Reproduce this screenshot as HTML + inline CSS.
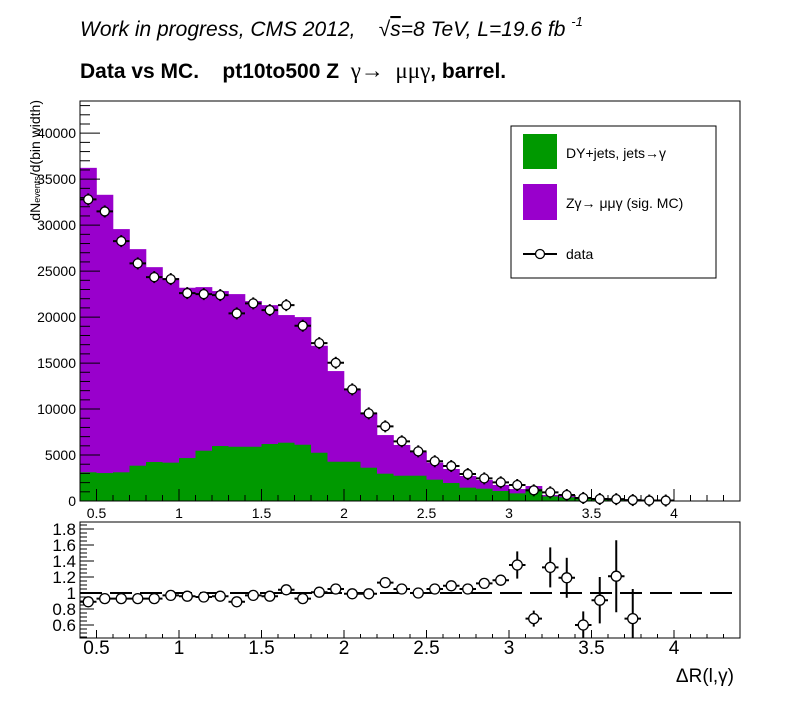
<!DOCTYPE html>
<html><head><meta charset="utf-8"><style>
html,body{margin:0;padding:0;background:#fff}
svg{display:block;font-family:"Liberation Sans",sans-serif}
</style></head><body>
<svg id="c" width="796" height="724" viewBox="0 0 796 724">
<text x="80" y="36" font-size="21" font-style="italic" xml:space="preserve" style="white-space:pre">Work in progress, CMS 2012,    &#x221A;<tspan text-decoration="overline">s</tspan>=8 TeV, L=19.6 fb <tspan font-size="13" dy="-10">-1</tspan></text>
<text x="80" y="78" font-size="21" font-weight="bold" xml:space="preserve" style="white-space:pre">Data vs MC.    pt10to500 Z  <tspan font-weight="normal" font-family="Liberation Serif" font-size="23">γ→  μμγ</tspan>, barrel.</text>
<g id="main"></g>
<g id="ratio"></g>
<text x="734" y="682" font-size="19" text-anchor="end">ΔR(l,γ)</text>
<text transform="translate(40,100) rotate(-90)" font-size="14" text-anchor="end">dN<tspan font-size="9">events</tspan>/d(bin width)</text>
<g>
<rect x="511" y="126" width="205" height="152" fill="#fff" stroke="#000" stroke-width="1"/>
<rect x="523" y="134" width="34" height="35" fill="#009900"/>
<text x="566" y="158" font-size="14">DY+jets, jets→γ</text>
<rect x="523" y="184" width="34" height="36" fill="#9900cc"/>
<text x="566" y="208" font-size="14">Zγ→ μμγ (sig. MC)</text>
<line x1="523" y1="254" x2="557" y2="254" stroke="#000" stroke-width="2"/>
<circle cx="540" cy="254" r="4.5" fill="#fff" stroke="#000" stroke-width="1.3"/>
<text x="566" y="259" font-size="14">data</text>
</g>
</svg>
<script>
const binLo = [0.4,0.5,0.6,0.7,0.8,0.9,1.0,1.1,1.2,1.3,1.4,1.5,1.6,1.7,1.8,1.9,2.0,2.1,2.2,2.3,2.4,2.5,2.6,2.7,2.8,2.9,3.0,3.1,3.2,3.3,3.4,3.5,3.6,3.7,3.8,3.9];
const stackTotal = [36230,33300,29570,27390,25430,24240,23190,23260,22830,22500,21740,21300,20220,20000,16880,14130,12170,9600,7170,6090,5360,4170,3480,2720,2280,1740,1300,1630,650,540,400,250,150,100,50,30];
const dyValues = [3120,3040,3120,3840,4240,4170,4670,5470,5980,5900,5900,6200,6340,6120,5250,4270,4270,3620,2970,2750,2750,2320,1960,1450,1340,1090,830,1300,500,400,250,200,100,60,30,20];
const dataValues = [32800,31490,28260,25840,24350,24130,22610,22500,22390,20400,21490,20760,21300,19060,17170,15030,12140,9530,8120,6490,5400,4320,3800,2930,2460,2030,1740,1160,940,650,330,220,200,100,50,50];
const ratioValues = [0.89,0.93,0.93,0.93,0.93,0.97,0.96,0.95,0.96,0.89,0.97,0.96,1.04,0.93,1.01,1.05,0.99,0.99,1.13,1.05,1.0,1.05,1.09,1.05,1.12,1.16,1.35,0.68,1.32,1.19,0.6,0.91,1.21,0.68];
const ratioErrors = [0.01,0.01,0.01,0.01,0.01,0.01,0.01,0.01,0.01,0.01,0.01,0.01,0.01,0.01,0.01,0.015,0.015,0.02,0.02,0.02,0.02,0.03,0.03,0.04,0.05,0.07,0.17,0.1,0.25,0.25,0.17,0.29,0.45,0.37];
const yTicks = [0,5000,10000,15000,20000,25000,30000,35000,40000];
const xTicks = [0.5,1,1.5,2,2.5,3,3.5,4];
const rTicks = [0.6,0.8,1,1.2,1.4,1.6,1.8];
const rTickLabels = ["0.6","0.8","1","1.2","1.4","1.6","1.8"];

const NS="http://www.w3.org/2000/svg";
const X0=80,X1=740,xmin=0.4,xmax=4.4;
const sx=v=>X0+(v-xmin)/(xmax-xmin)*(X1-X0);
const MT=101,MB=501,ymax=43500;
const sy=v=>MB-v/ymax*(MB-MT);
const RT=522,RB=638,rmin=0.4375,rmax=1.8875;
const sr=v=>RB-(v-rmin)/(rmax-rmin)*(RB-RT);
function mk(p,t,a){const e=document.createElementNS(NS,t);for(const k in a)e.setAttribute(k,a[k]);p.appendChild(e);return e;}
const main=document.getElementById('main'), ratio=document.getElementById('ratio');
const bw=0.1;
binLo.forEach((lo,i)=>{
  const r=mk(main,'rect',{x:sx(lo),y:sy(stackTotal[i]),width:sx(lo+bw)-sx(lo)+0.3,height:MB-sy(stackTotal[i]),fill:'#9900cc'});
  
  
  const g=mk(main,'rect',{x:sx(lo),y:sy(dyValues[i]),width:sx(lo+bw)-sx(lo)+0.3,height:MB-sy(dyValues[i]),fill:'#009900'});
  
  
});
const f=mk(main,'rect',{x:X0,y:MT,width:X1-X0,height:MB-MT,fill:'none',stroke:'#000','stroke-width':1});


for(let v=0;v<=ymax;v+=1000){const y=sy(v);const major=v%5000===0;mk(main,'line',{x1:X0,y1:y,x2:X0+(major?20:10),y2:y,stroke:'#000'});}
yTicks.forEach(v=>{const t=mk(main,'text',{x:76,y:sy(v)+5,'font-size':14,'text-anchor':'end'});t.textContent=v;
  
  });
for(let k=0;k<=40;k++){const v=0.4+k*0.1;const x=sx(v);const major=Math.abs(v*2-Math.round(v*2))<1e-6;
  mk(main,'line',{x1:x,y1:MB,x2:x,y2:MB-(major?12:6),stroke:'#000'});
  mk(ratio,'line',{x1:x,y1:RB,x2:x,y2:RB-(major?8:4),stroke:'#000'});}
xTicks.forEach(v=>{const t=mk(main,'text',{x:sx(v),y:518,'font-size':14,'text-anchor':'middle'});t.textContent=v;
  
  
  const t2=mk(ratio,'text',{x:sx(v),y:654,'font-size':19,'text-anchor':'middle'});t2.textContent=v;
  
  });
binLo.forEach((lo,i)=>{const cx=sx(lo+bw/2),cy=sy(dataValues[i]);
  mk(main,'line',{x1:sx(lo),y1:cy,x2:sx(lo+bw),y2:cy,stroke:'#000','stroke-width':2});
  mk(main,'line',{x1:cx,y1:cy-6,x2:cx,y2:cy+6,stroke:'#000','stroke-width':2});
  const c=mk(main,'circle',{cx:cx,cy:cy,r:4.5,fill:'#fff',stroke:'#000','stroke-width':1.3});
  
  });
const rf=mk(ratio,'rect',{x:X0,y:RT,width:X1-X0,height:RB-RT,fill:'none',stroke:'#000'});


for(let k=9;k<=37;k++){const v=k*0.05;const y=sr(v);const major=(k%4===0);mk(ratio,'line',{x1:X0,y1:y,x2:X0+(major?14:7),y2:y,stroke:'#000'});}
rTicks.forEach((v,i)=>{const t=mk(ratio,'text',{x:76,y:sr(v)+6,'font-size':17,'text-anchor':'end'});t.textContent=rTickLabels[i];
  
  });
const ref=mk(ratio,'line',{x1:X0,y1:sr(1),x2:X1,y2:sr(1),stroke:'#000','stroke-width':2,'stroke-dasharray':'22,8'});


ratioValues.forEach((v,i)=>{const lo=binLo[i];const cx=sx(lo+bw/2),cy=sr(v);
  const e=ratioErrors[i];
  mk(ratio,'line',{x1:sx(lo),y1:cy,x2:sx(lo+bw),y2:cy,stroke:'#000','stroke-width':2});
  mk(ratio,'line',{x1:cx,y1:Math.max(RT,sr(v+e)),x2:cx,y2:Math.min(RB,sr(v-e)),stroke:'#000','stroke-width':2});
  const c=mk(ratio,'circle',{cx:cx,cy:cy,r:5,fill:'#fff',stroke:'#000','stroke-width':1.3});
  
  });
</script>
</body></html>
